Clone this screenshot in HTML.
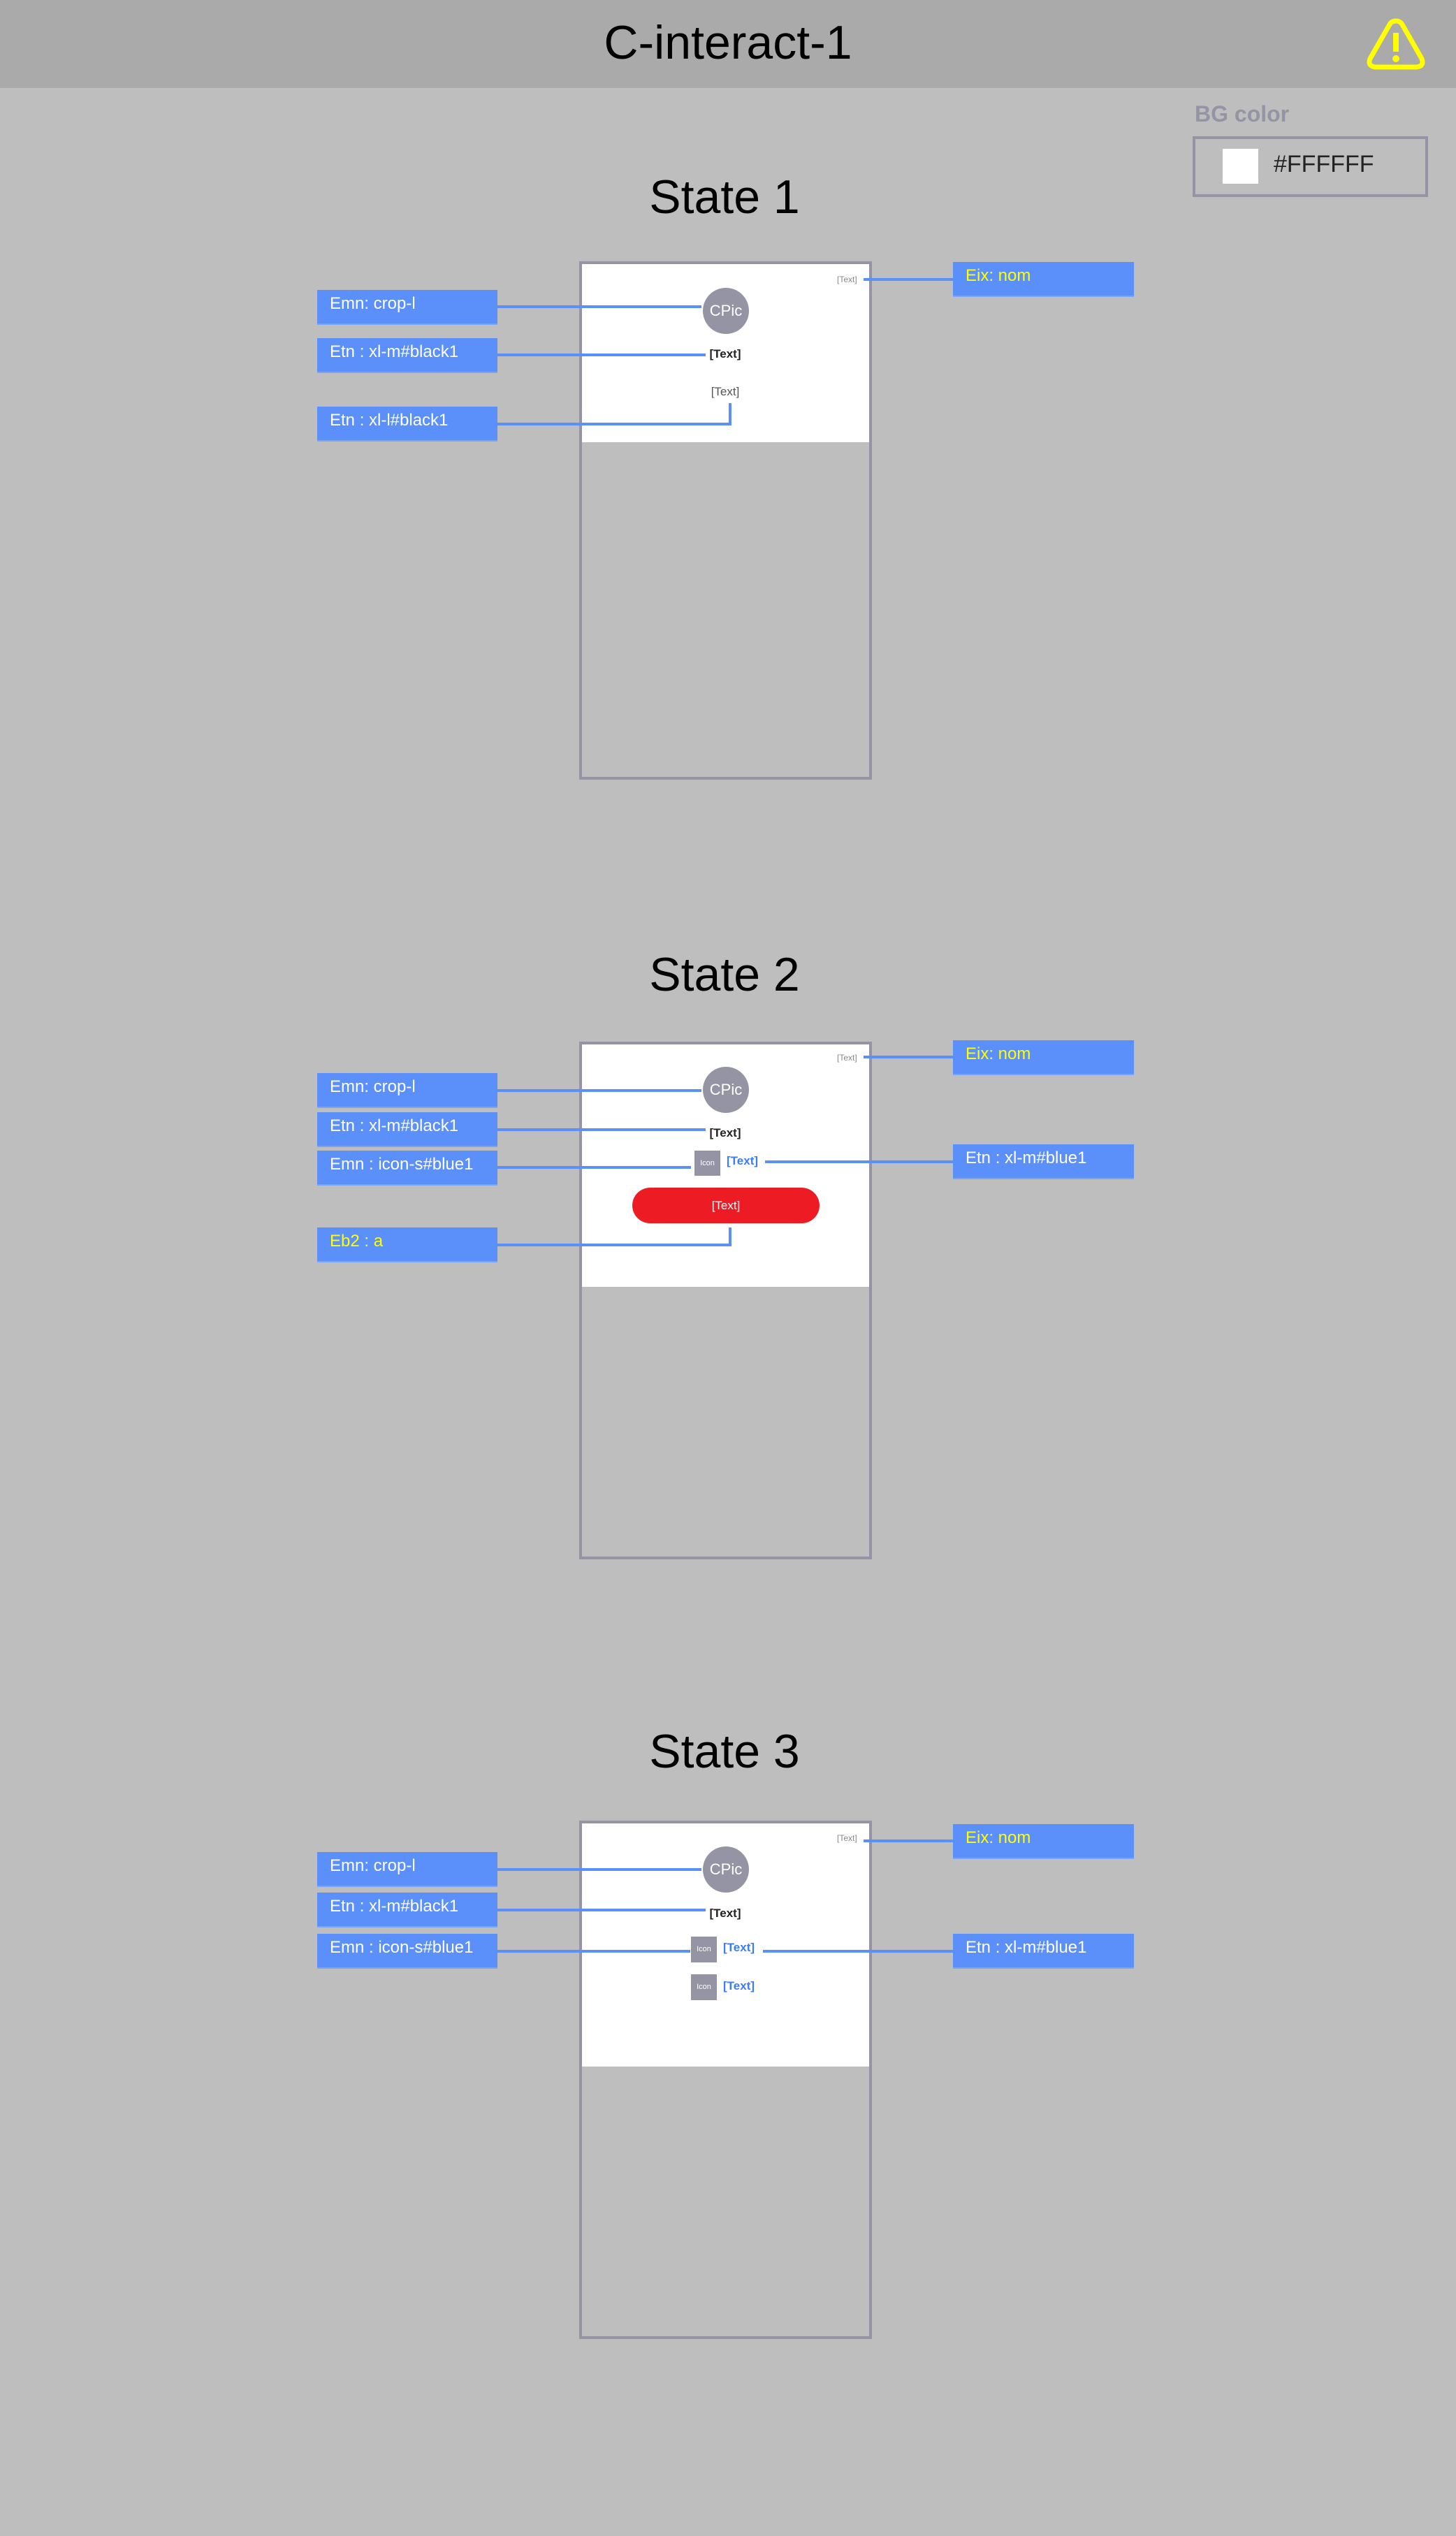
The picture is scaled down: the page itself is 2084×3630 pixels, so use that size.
<!DOCTYPE html>
<html><head><meta charset="utf-8"><style>
*{margin:0;padding:0;box-sizing:border-box}
body{width:2084px;height:3630px;background:#bebebe;position:relative;overflow:hidden;font-family:"Liberation Sans","DejaVu Sans",sans-serif}
.a{position:absolute}
.hdr{left:0;top:0;width:2084px;height:126px;background:#aaaaaa}
.title{left:0;width:2084px;text-align:center;font-size:68px;color:#000}
.st{left:837px;width:400px;text-align:center;font-size:68px;color:#000}
.frame{left:829px;width:419px;border:4px solid #9494a4}
.white{background:#fff}
.box{background:#5b8ff9;color:#fff;font-size:24px;padding-left:18px;line-height:40px;border-bottom:2px solid #7aa4f5}
.y{color:#ffff00}
.ln{background:#5b8ff9}
.cpic{width:66px;height:66px;border-radius:50%;background:#9494a4;color:#fff;font-size:22px;text-align:center;line-height:66px}
.bt{font-size:17px;font-weight:bold;color:#222;width:80px;text-align:center}
.gt{font-size:17px;color:#555;width:80px;text-align:center}
.tr{font-size:12px;color:#888}
.icon{background:#9494a4;color:#fff;font-size:11px;text-align:center}
.blue{font-size:17px;font-weight:bold;color:#3a7bff}
</style></head><body>
<div class="a hdr"></div>
<div class="a title" style="top:22px">C-interact-1</div>
<svg class="a" style="left:1955px;top:24px" width="86" height="80" viewBox="0 0 86 80"><path d="M43 6 Q37 6 34 11 L6 60 Q2 71 14 72 L72 72 Q84 71 80 60 L52 11 Q49 6 43 6 Z" fill="none" stroke="#ffff00" stroke-width="7" stroke-linejoin="round"/><rect x="39" y="23" width="8" height="27" fill="#ffff00"/><circle cx="43" cy="60" r="5" fill="#ffff00"/></svg>
<div class="a" style="left:1710px;top:145px;font-size:32px;font-weight:bold;color:#9494a4">BG color</div>
<div class="a" style="left:1707px;top:195px;width:337px;height:87px;border:4px solid #9494a4"></div>
<div class="a" style="left:1750px;top:213px;width:51px;height:50px;background:#fff"></div>
<div class="a" style="left:1823px;top:216px;font-size:34px;color:#222">#FFFFFF</div>

<!-- State 1 -->
<div class="a st" style="top:243px">State 1</div>
<div class="a frame" style="top:374px;height:742px"><div class="white" style="height:255px"></div></div>
<div class="a tr" style="left:1198px;top:393px">[Text]</div>
<div class="a ln" style="left:1236px;top:398px;width:128px;height:4px"></div>
<div class="a box" style="left:1364px;top:375px;width:259px;height:50px"><span class="y">Eix: nom</span></div>
<div class="a box" style="left:454px;top:415px;width:258px;height:50px">Emn: crop-l</div>
<div class="a box" style="left:454px;top:484px;width:258px;height:50px">Etn : xl-m#black1</div>
<div class="a box" style="left:454px;top:582px;width:258px;height:50px">Etn : xl-l#black1</div>
<div class="a cpic" style="left:1006px;top:412px">CPic</div>
<div class="a ln" style="left:712px;top:437px;width:292px;height:4px"></div>
<div class="a bt" style="left:998px;top:497px">[Text]</div>
<div class="a ln" style="left:712px;top:506px;width:298px;height:4px"></div>
<div class="a gt" style="left:998px;top:551px">[Text]</div>
<div class="a ln" style="left:1043px;top:577px;width:4px;height:32px"></div>
<div class="a ln" style="left:712px;top:605px;width:335px;height:4px"></div>

<!-- State 2 -->
<div class="a st" style="top:1356px">State 2</div>
<div class="a frame" style="top:1491px;height:741px"><div class="white" style="height:347px"></div></div>
<div class="a tr" style="left:1198px;top:1507px">[Text]</div>
<div class="a ln" style="left:1236px;top:1511px;width:128px;height:4px"></div>
<div class="a box" style="left:1364px;top:1489px;width:259px;height:50px"><span class="y">Eix: nom</span></div>
<div class="a box" style="left:454px;top:1536px;width:258px;height:50px">Emn: crop-l</div>
<div class="a box" style="left:454px;top:1592px;width:258px;height:50px">Etn : xl-m#black1</div>
<div class="a box" style="left:454px;top:1647px;width:258px;height:50px">Emn : icon-s#blue1</div>
<div class="a box" style="left:454px;top:1757px;width:258px;height:50px"><span class="y">Eb2 : a</span></div>
<div class="a box" style="left:1364px;top:1638px;width:259px;height:50px">Etn : xl-m#blue1</div>
<div class="a cpic" style="left:1006px;top:1527px">CPic</div>
<div class="a ln" style="left:712px;top:1559px;width:292px;height:4px"></div>
<div class="a bt" style="left:998px;top:1612px">[Text]</div>
<div class="a ln" style="left:712px;top:1615px;width:298px;height:4px"></div>
<div class="a icon" style="left:994px;top:1647px;width:37px;height:36px;line-height:36px">Icon</div>
<div class="a blue" style="left:1040px;top:1652px">[Text]</div>
<div class="a ln" style="left:712px;top:1669px;width:277px;height:4px"></div>
<div class="a ln" style="left:1095px;top:1661px;width:269px;height:4px"></div>
<div class="a" style="left:905px;top:1700px;width:268px;height:51px;border-radius:26px;background:#ed1c24;color:#fff;font-size:17px;text-align:center;line-height:51px">[Text]</div>
<div class="a ln" style="left:1043px;top:1757px;width:4px;height:27px"></div>
<div class="a ln" style="left:712px;top:1780px;width:335px;height:4px"></div>

<!-- State 3 -->
<div class="a st" style="top:2468px">State 3</div>
<div class="a frame" style="top:2606px;height:742px"><div class="white" style="height:348px"></div></div>
<div class="a tr" style="left:1198px;top:2624px">[Text]</div>
<div class="a ln" style="left:1236px;top:2633px;width:128px;height:4px"></div>
<div class="a box" style="left:1364px;top:2611px;width:259px;height:50px"><span class="y">Eix: nom</span></div>
<div class="a box" style="left:454px;top:2651px;width:258px;height:50px">Emn: crop-l</div>
<div class="a box" style="left:454px;top:2709px;width:258px;height:50px">Etn : xl-m#black1</div>
<div class="a box" style="left:454px;top:2768px;width:258px;height:50px">Emn : icon-s#blue1</div>
<div class="a box" style="left:1364px;top:2768px;width:259px;height:50px">Etn : xl-m#blue1</div>
<div class="a cpic" style="left:1006px;top:2643px">CPic</div>
<div class="a ln" style="left:712px;top:2674px;width:292px;height:4px"></div>
<div class="a bt" style="left:998px;top:2729px">[Text]</div>
<div class="a ln" style="left:712px;top:2732px;width:298px;height:4px"></div>
<div class="a icon" style="left:989px;top:2772px;width:37px;height:37px;line-height:37px">Icon</div>
<div class="a blue" style="left:1035px;top:2778px">[Text]</div>
<div class="a ln" style="left:712px;top:2791px;width:276px;height:4px"></div>
<div class="a ln" style="left:1092px;top:2791px;width:272px;height:4px"></div>
<div class="a icon" style="left:989px;top:2826px;width:37px;height:37px;line-height:37px">Icon</div>
<div class="a blue" style="left:1035px;top:2833px">[Text]</div>
</body></html>
